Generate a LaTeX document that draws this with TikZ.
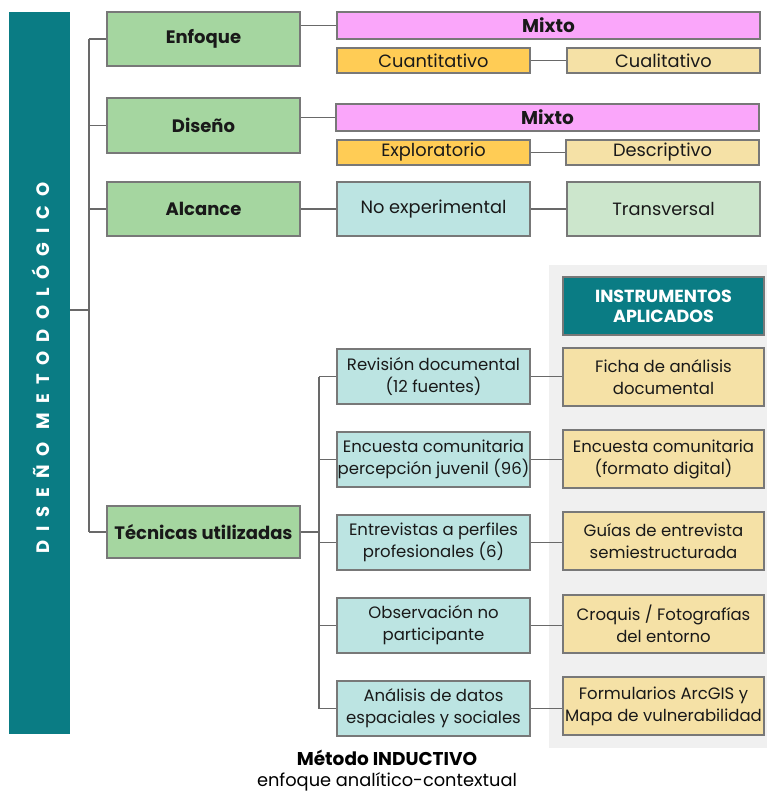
\documentclass[tikz,border=0pt]{standalone}
\usepackage{fontspec}
\setmainfont{Poppins}
\definecolor{teal1}{RGB}{10,124,132}
\definecolor{lvgreen}{RGB}{165,214,160}
\definecolor{pink1}{RGB}{250,166,250}
\definecolor{orange1}{RGB}{255,204,85}
\definecolor{pale1}{RGB}{245,225,166}
\definecolor{cyan1}{RGB}{188,228,226}
\definecolor{lgreen2}{RGB}{204,230,204}
\definecolor{panel1}{RGB}{240,240,240}
\definecolor{bord}{RGB}{120,120,120}
\definecolor{conn}{RGB}{105,105,105}
\tikzset{
  base/.style={draw=bord, line width=1.1pt, inner sep=0pt, align=center, text=black!90,
    font=\fontsize{16.5}{22}\selectfont},
  top/.style={base, font=\fontsize{17.8}{22}\selectfont},
  lvl/.style={base, fill=lvgreen, minimum width=193pt, font=\bfseries\fontsize{18}{22}\selectfont},
  mixbox/.style={base, fill=pink1, minimum width=423pt, minimum height=27pt, font=\bfseries\fontsize{18.5}{22}\selectfont},
  orbox/.style={top, fill=orange1, minimum width=193pt, minimum height=25pt},
  palebox/.style={top, fill=pale1, minimum width=193pt, minimum height=25pt},
  cybox/.style={base, fill=cyan1, minimum width=193pt, minimum height=55pt},
  inbox/.style={base, fill=pale1, minimum width=201pt, minimum height=58pt},
  link/.style={draw=conn, line width=1.1pt}
}
\begin{document}
\begin{tikzpicture}[x=1pt,y=-1pt]
\useasboundingbox[fill=white] (0,0) rectangle (767,792);
% gray panel
\fill[panel1] (549,265) rectangle (767,748);
% left bar
\node[fill=teal1, minimum width=61pt, minimum height=722pt, inner sep=0pt] (bar) at (39.5,373) {};
\node[rotate=90, text=white, inner sep=0pt, font=\bfseries\fontsize{18}{18}\selectfont\addfontfeatures{LetterSpace=50}] (bartxt) at (41,368) {DISEÑO METODOLÓGICO};
% level 1
\node[lvl, minimum height=54pt] (enf) at (203.5,39) {Enfoque};
\node[lvl, minimum height=55pt] (dis) at (203.5,125.5) {Diseño};
\node[lvl, minimum height=54pt] (alc) at (203.5,209) {Alcance};
\node[lvl, minimum height=52pt] (tec) at (203.5,532) {Técnicas utilizadas};
% enfoque
\node[mixbox] (mix1) at (548.5,25.5) {Mixto};
\node[orbox] (cuan) at (433.5,60.5) {Cuantitativo};
\node[palebox] (cual) at (663.5,60.5) {Cualitativo};
% diseño
\node[mixbox] (mix2) at (547.5,117.5) {Mixto};
\node[orbox] (expl) at (433.5,152.5) {Exploratorio};
\node[palebox] (desc) at (662.5,152.5) {Descriptivo};
% alcance
\node[top, fill=cyan1, minimum width=193pt, minimum height=54pt] (noexp) at (433.5,209) {No experimental};
\node[top, fill=lgreen2, minimum width=193pt, minimum height=54pt] (trans) at (663.5,209) {Transversal};
% header
\node[base, fill=teal1, text=white, minimum width=201pt, minimum height=58pt, font=\bfseries\fontsize{17.5}{20}\selectfont] (hdr) at (663.5,306) {INSTRUMENTOS\\APLICADOS};
% techniques
\node[cybox] (c1) at (433.5,376.5) {Revisión documental\\(12 fuentes)};
\node[cybox] (c2) at (433.5,459.5) {Encuesta comunitaria\\percepción juvenil (96)};
\node[cybox] (c3) at (433.5,542.5) {Entrevistas a perfiles\\profesionales (6)};
\node[cybox] (c4) at (433.5,625.5) {Observación no\\participante};
\node[cybox] (c5) at (433.5,708.5) {Análisis de datos\\espaciales y sociales};
% instruments
\node[inbox] (i1) at (663.5,377) {Ficha de análisis\\documental};
\node[inbox] (i2) at (663.5,459) {Encuesta comunitaria\\(formato digital)};
\node[inbox] (i3) at (663.5,541) {Guías de entrevista\\semiestructurada};
\node[inbox] (i4) at (663.5,624) {Croquis / Fotografías\\del entorno};
\node[inbox] (i5) at (663.5,706) {Formularios ArcGIS y\\Mapa de vulnerabilidad};
% bottom text
\node[font=\bfseries\fontsize{18.5}{20}\selectfont, inner sep=0pt] (met) at (387,758) {Método INDUCTIVO};
\node[font=\fontsize{17.8}{20}\selectfont, inner sep=0pt] (enfq) at (387,782) {enfoque analítico-contextual};
% main tree
\coordinate (sp) at (89,310);
\draw[link] (bar.east |- sp) -- (sp);
\draw[link] (sp |- enf.west) -- (sp |- tec.west);
\foreach \n in {enf,dis,alc,tec} \draw[link] (sp |- \n.west) -- (\n.west);
% level 2 links
\draw[link] (enf.east |- mix1.west) -- (mix1.west);
\draw[link] (dis.east |- mix2.west) -- (mix2.west);
\draw[link] (alc.east) -- (noexp.west);
\draw[link] (cuan.east) -- (cual.west);
\draw[link] (expl.east) -- (desc.west);
\draw[link] (noexp.east) -- (trans.west);
% techniques tree
\coordinate (tp) at (319,532);
\draw[link] (tec.east) -- (tp);
\draw[link] (tp |- c1.west) -- (tp |- c5.west);
\foreach \n in {c1,c2,c3,c4,c5} \draw[link] (tp |- \n.west) -- (\n.west);
\foreach \a/\b in {c1/i1,c2/i2,c3/i3,c4/i4,c5/i5} \draw[link] (\a.east) -- (\a.east -| \b.west);
\end{tikzpicture}
\end{document}
